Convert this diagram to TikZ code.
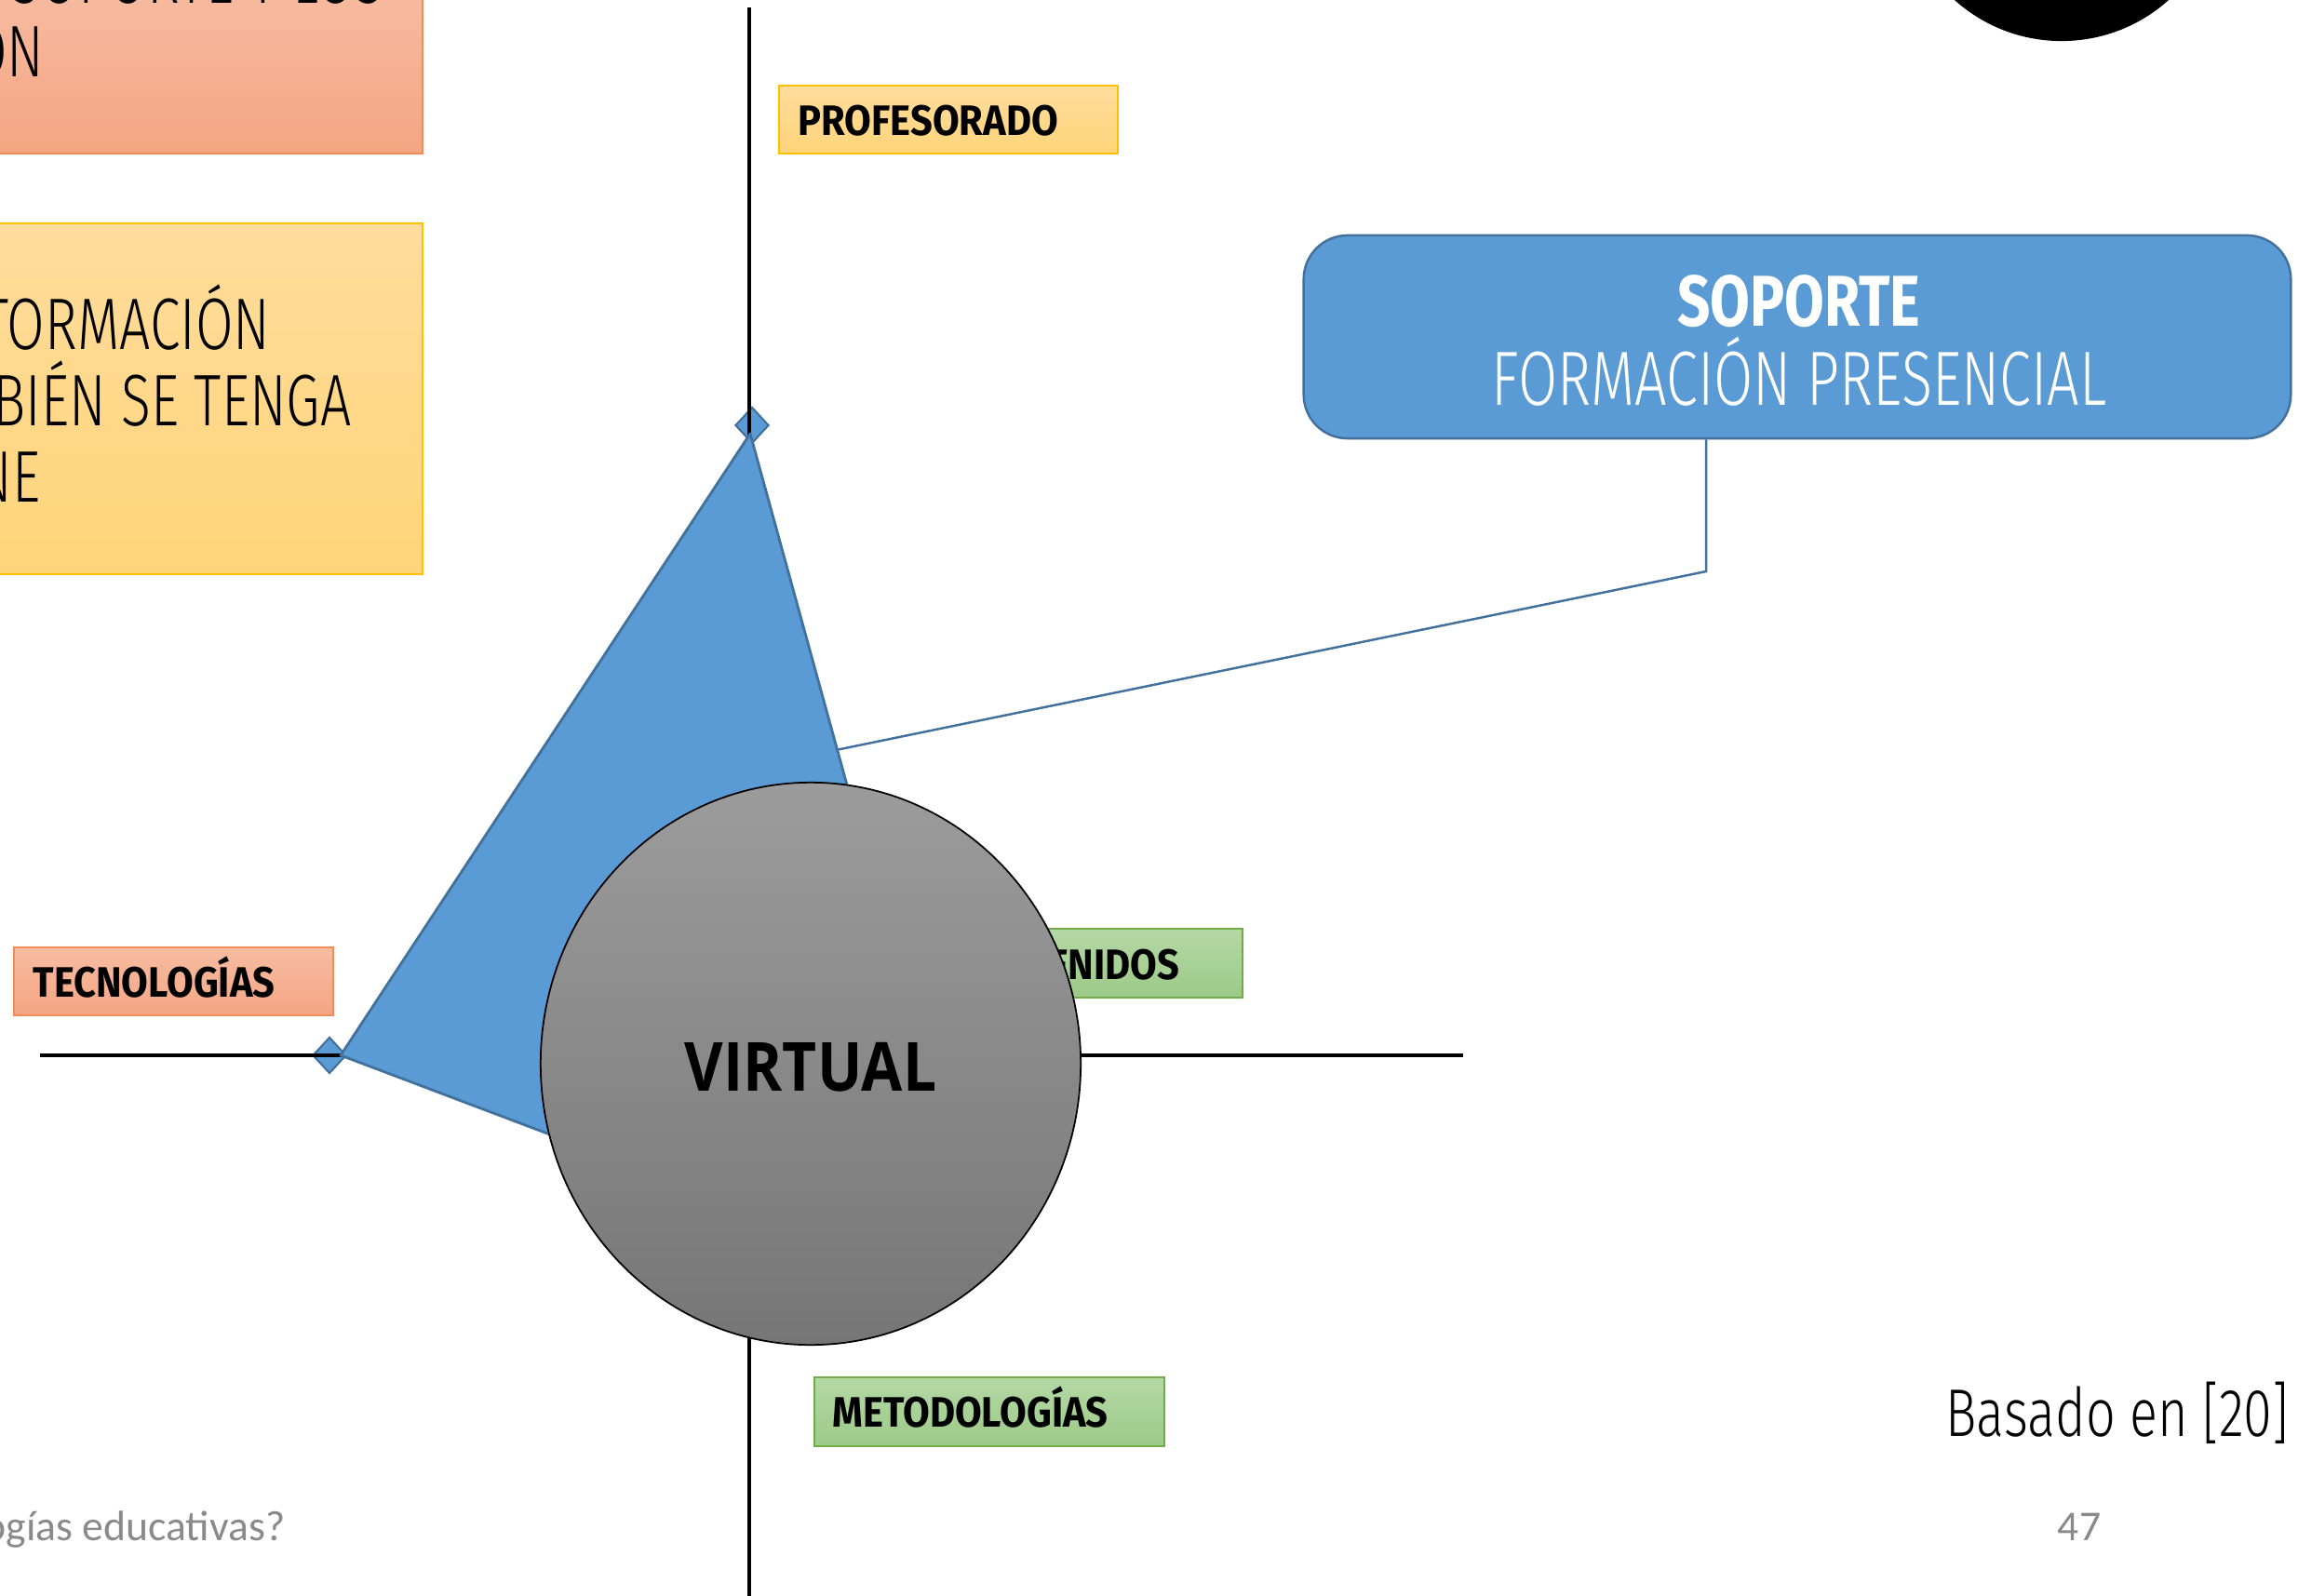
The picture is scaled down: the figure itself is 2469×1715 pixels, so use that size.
\documentclass[tikz,border=0pt]{standalone}
\usepackage{fontspec}
\setmainfont{Fira Sans}
\newfontfamily\condb[FakeStretch=0.91]{Fira Sans}
\newfontfamily\condbb[FakeStretch=0.8]{Fira Sans}
\newfontfamily\condl[FakeStretch=0.74]{Fira Sans Light}
\newfontfamily\condr[FakeStretch=0.75]{Fira Sans Light}
\newfontfamily\condq[FakeStretch=0.77]{Fira Sans Light}
\newfontfamily\vfont[FakeStretch=0.88]{Open Sans}
\newfontfamily\calfont{Carlito}
\usetikzlibrary{shapes.geometric}
\definecolor{blueA}{HTML}{5B9BD5}
\definecolor{blueB}{HTML}{41719C}
\definecolor{salT}{HTML}{F7BCA2}
\definecolor{salB}{HTML}{F4A582}
\definecolor{salD}{HTML}{F08C55}
\definecolor{yelT}{HTML}{FFDC9C}
\definecolor{yelB}{HTML}{FFD479}
\definecolor{yelD}{HTML}{FFC000}
\definecolor{grnT}{HTML}{B5D8A6}
\definecolor{grnB}{HTML}{9CCA87}
\definecolor{grnD}{HTML}{70AD47}
\definecolor{gryT}{HTML}{9C9C9C}
\definecolor{gryB}{HTML}{767676}
\definecolor{foot}{HTML}{8A8A8A}
\tikzset{
  boxbase/.style={draw, line width=0.45pt, inner sep=0pt, anchor=north west},
  salbox/.style={boxbase, draw=salD, top color=salT, bottom color=salB},
  yelbox/.style={boxbase, draw=yelD, top color=yelT, bottom color=yelB},
  grnbox/.style={boxbase, draw=grnD, top color=grnT, bottom color=grnB},
  lbltext/.style={anchor=base west, inner sep=0pt, font=\condb\bfseries\fontsize{13}{15}\selectfont},
  bigtext/.style={inner sep=0pt, font=\condr\fontsize{22.3}{26}\selectfont},
  axisline/.style={line width=1.1pt, black},
  marker/.style={diamond, draw=blueB, fill=blueA, line width=0.6pt, minimum width=3.6mm, minimum height=3.9mm, inner sep=0pt},
}
\begin{document}
\begin{tikzpicture}[x=0.01cm, y=-0.01cm]
\useasboundingbox (0,0) rectangle (2469,1715);
\clip (0,0) rectangle (2469,1715);
\fill[white] (0,0) rectangle (2469,1715);

% left top boxes
\node[salbox, minimum width=47.3mm, minimum height=18.4mm] (sal) at (-20,-20) {};
\node[bigtext, anchor=base east] (sal1) at (413,4) {SOPORTE Y LOS};
\node[bigtext, anchor=base east] (sal2) at (48,82) {ON};

\node[yelbox, minimum width=47.3mm, minimum height=37.7mm] (yel) at (-20,239) {};
\node[bigtext, anchor=base east] (yel1) at (291,375) {TORMACIÓN};
\node[bigtext, anchor=base east] (yel2) at (378,457) {BIÉN SE TENGA};
\node[bigtext, anchor=base east] (yel3) at (44,539) {NE};

% black circle top right
\node[circle, fill=black, minimum size=34.4mm, inner sep=0pt] (blk) at (2215,-128) {};

% labels
\node[yelbox, minimum width=36.4mm, minimum height=7.3mm] (prof) at (836,91) {};
\node[lbltext] (proft) at (857,145) {PROFESORADO};
\node[salbox, minimum width=34.3mm, minimum height=7.3mm] (tec) at (14,1017) {};
\node[lbltext] (tect) at (35,1071) {TECNOLOGÍAS};
\node[grnbox, minimum width=31.8mm, minimum height=7.4mm] (con) at (1016,997) {};
\node[lbltext, anchor=base east] (cont) at (1268,1052) {CONTENIDOS};
\node[grnbox, minimum width=37.6mm, minimum height=7.4mm] (met) at (874,1479) {};
\node[lbltext] (mett) at (894,1533) {METODOLOGÍAS};

% markers and axes
\node[marker] (dtop) at (808,457) {};
\node[marker] (dleft) at (354,1134) {};
\coordinate (vt) at (805,8);
\coordinate (vb) at (805,1730);
\coordinate (hl) at (43,1134);
\coordinate (hr) at (1572,1134);
\draw[axisline] (vt) -- (vb);
\draw[axisline] (hl) -- (hr);

% radar polygon
\coordinate (pt) at (806,466);
\coordinate (pl) at (366,1134);
\coordinate (pb) at (805,1300);
\coordinate (pr) at (990,1134);
\draw[blueB, fill=blueA, line width=0.8pt, line join=round] (pt) -- (pl) -- (pb) -- (pr) -- cycle;

% soporte box and connector
\node[draw=blueB, fill=blueA, line width=0.7pt, rounded corners=4.7mm, minimum width=106mm, minimum height=21.8mm, inner sep=0pt] (sop) at (1931,362) {};
\node[inner sep=0pt, anchor=base, text=white, font=\condbb\bfseries\fontsize{22}{26}\selectfont] (sop1) at (1933,350) {SOPORTE};
\node[inner sep=0pt, anchor=base, text=white, font=\condl\fontsize{23.5}{28}\selectfont] (sop2) at (1933,435) {FORMACIÓN PRESENCIAL};
\coordinate (k1) at (1833,614);
\coordinate (tip) at (898,806);
\draw[blueB, line width=0.7pt] (sop.south -| k1) -- (k1) -- (tip);

% virtual ellipse
\node[ellipse, draw=black, line width=0.5pt, minimum width=58mm, minimum height=60.4mm, top color=gryT, bottom color=gryB, inner sep=0pt] (virt) at (871,1143) {};
\node[inner sep=0pt, font=\vfont\bfseries\fontsize{20.7}{24}\selectfont] (virtt) at (871,1147) {VIRTUAL};

% footer texts
\node[inner sep=0pt, anchor=base east, font=\condq\fontsize{20.6}{24}\selectfont] (bas) at (2460,1543) {Basado en [20]};
\node[inner sep=0pt, anchor=base, text=foot, font=\calfont\fontsize{13}{15}\selectfont] (pg) at (2234,1655) {47};
\node[inner sep=0pt, anchor=base east, text=foot, font=\calfont\fontsize{13}{15}\selectfont] (ft) at (307,1655) {ogías educativas?};
\end{tikzpicture}
\end{document}
